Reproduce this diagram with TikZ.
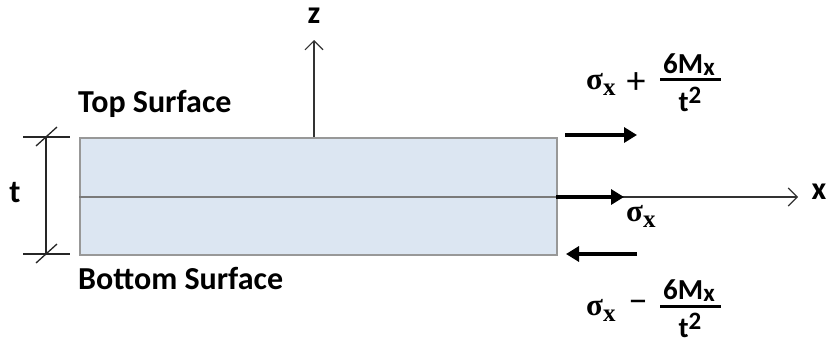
\documentclass[tikz,border=0pt]{standalone}
\usepackage{fontspec}
\setmainfont{Carlito}
\newfontfamily\serifb{Liberation Serif}
\usetikzlibrary{arrows.meta}
\definecolor{plate}{HTML}{DCE6F2}
\definecolor{edge}{HTML}{989898}
\definecolor{mid}{HTML}{7A7A7A}
\tikzset{
  lbl/.style={font=\fontsize{32}{36}\selectfont\bfseries, inner sep=0pt},
  frc/.style={font=\fontsize{29}{32}\selectfont\bfseries, inner sep=0pt, anchor=base},
  sig/.style={font=\fontsize{31}{34}\selectfont\serifb\bfseries, inner sep=0pt, anchor=base west},
  opr/.style={font=\fontsize{38}{40}\selectfont, inner sep=0pt},
  fracline/.style={fill=black, draw=black, line width=0.4pt, minimum width=60pt, minimum height=2pt, inner sep=0pt, outer sep=0pt},
  axis/.style={draw=black!80, line width=1.1pt, -{Straight Barb[length=9pt,width=18pt,line width=1.1pt]}},
  force/.style={draw=black, line width=4pt, -{Triangle[length=13pt,width=15pt]}},
  dim/.style={draw=black!85, line width=1.3pt}
}
\newcommand{\sgx}{σ\raisebox{-6pt}{\fontsize{25}{27}\selectfont x}}
\newcommand{\numr}{6M\raisebox{-2pt}{\fontsize{25}{27}\selectfont x}}
\newcommand{\denr}{t\raisebox{8pt}{\fontsize{25}{27}\selectfont 2}}
\begin{document}
\begin{tikzpicture}[x=1pt,y=-1pt]
\useasboundingbox (0,0) rectangle (827,343);
% plate
\node[draw=edge, fill=plate, line width=1.5pt, minimum width=477pt, minimum height=117pt, inner sep=0pt, anchor=north west] (plate) at (79,137) {};
\coordinate (ml) at (79,197);
\coordinate (mr) at (556,197);
\draw[draw=mid, line width=2.5pt] (ml) -- (mr);
% axes
\coordinate (zb) at (314,137);
\coordinate (zt) at (314,40);
\draw[axis] (zb) -- (zt);
\node[lbl] (zl) at (314,16) {z};
\coordinate (xe) at (798,197);
\draw[axis] (mr) -- (xe);
\node[lbl] (xl) at (819,192) {x};
% dimension
\coordinate (d1) at (46,137);
\coordinate (d2) at (46,254);
\draw[dim] (d1) -- (d2);
\draw[dim] (23,137) -- (70,137);
\draw[dim] (23,254) -- (70,254);
\draw[dim] (36,146) -- (57,127);
\draw[dim] (36,263) -- (57,244);
\node[lbl] (tl) at (15,193) {t};
% labels
\node[lbl, anchor=west] (top) at (78,104) {Top Surface};
\node[lbl, anchor=west] (bot) at (78,278) {Bottom Surface};
% forces
\coordinate (f1a) at (565,135);
\coordinate (f1b) at (637,135);
\draw[force] (f1a) -- (f1b);
\coordinate (f2b) at (624,197);
\draw[force] (mr) -- (f2b);
\coordinate (f3a) at (637,254);
\coordinate (f3b) at (566,254);
\draw[force] (f3a) -- (f3b);
% top stress label
\node[sig] (s1) at (586,89) {\sgx};
\node[opr] (p1) at (636,83) {+};
\node[frc] (n1) at (689,73) {\numr};
\node[fracline] (b1) at (690,79) {};
\node[frc] (t1) at (690,111) {\denr};
% middle stress label
\node[sig] (s2) at (626,221) {\sgx};
% bottom stress label
\node[sig] (s3) at (586,315) {\sgx};
\node[opr] (p3) at (638,307) {−};
\node[frc] (n3) at (689,299) {\numr};
\node[fracline] (b3) at (690,306) {};
\node[frc] (t3) at (690,337) {\denr};
\end{tikzpicture}
\end{document}
